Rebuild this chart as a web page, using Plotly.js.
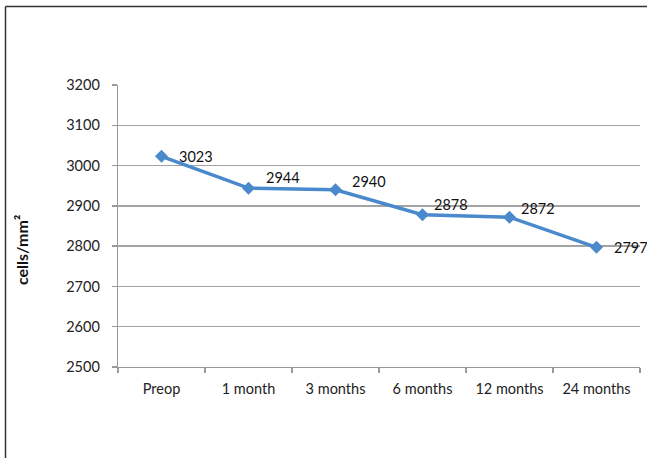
<!DOCTYPE html>
<html>
<head>
<meta charset="utf-8">
<script src="https://cdn.plot.ly/plotly-3.0.1.min.js"></script>
<style>
  html, body { margin: 0; padding: 0; background: #fff; }
  #chart { width: 647px; height: 458px; }
</style>
</head>
<body>
<div id="chart"></div>
<script>
// ---- data ----
const categories = ["Preop", "1 month", "3 months", "6 months", "12 months", "24 months"];
const cellDensity = [3023, 2944, 2940, 2878, 2872, 2797];
const yTickValues = [2500, 2600, 2700, 2800, 2900, 3000, 3100, 3200];
const yAxisTitle = "cells/mm²";

// ---- styling ----
const W = 647, H = 458;
const M = { l: 118, r: 7, t: 85, b: 91 };
const plotW = W - M.l - M.r, plotH = H - M.t - M.b;
const labelXShift = [15, 15, 14, 9, 9, 15];
const labelYShift = [0, 11, 8, 10, 9, 0];
const FONT = "Lato, 'Noto Sans', sans-serif";
const blue = "#4a89cc";

const trace = {
  x: categories,
  y: cellDensity,
  type: "scatter",
  mode: "lines+markers",
  line: { color: blue, width: 3.5 },
  marker: { symbol: "diamond", size: 10, color: blue, line: { width: 0 } },
  hoverinfo: "skip",
  showlegend: false
};

const valueLabels = categories.map((c, i) => ({
  x: c, y: cellDensity[i], xref: "x", yref: "y",
  text: String(cellDensity[i]),
  showarrow: false, xanchor: "left", yanchor: "middle",
  xshift: labelXShift[i], yshift: labelYShift[i],
  font: { family: FONT, size: 14.5, color: "#111" }
}));

const px2x = p => (p - M.l) / plotW;
const px2y = p => (H - M.b - p) / plotH;

const layout = {
  width: W, height: H,
  margin: M,
  paper_bgcolor: "#fff",
  plot_bgcolor: "#fff",
  font: { family: FONT, size: 14, color: "#222" },
  xaxis: {
    type: "category",
    range: [-0.5, categories.length - 0.5],
    showgrid: false,
    showline: true, linecolor: "#9a9a9a", linewidth: 1.3,
    ticks: "outside", ticklen: 5, tickcolor: "#9a9a9a", tickwidth: 1.3,
    tickson: "boundaries",
    ticklabelstandoff: 8,
    tickfont: { family: FONT, size: 14.5, color: "#222" },
    zeroline: false, fixedrange: true
  },
  yaxis: {
    range: [2500, 3200],
    tickvals: yTickValues,
    ticktext: yTickValues.map(String),
    showgrid: true, gridcolor: "#a3a3a3", gridwidth: 1.3,
    showline: true, linecolor: "#9a9a9a", linewidth: 1.3,
    ticks: "outside", ticklen: 5, tickcolor: "#9a9a9a", tickwidth: 1.3,
    ticklabelstandoff: 9,
    tickfont: { family: FONT, size: 14.5, color: "#222" },
    zeroline: false, fixedrange: true
  },
  annotations: valueLabels.concat([{
    text: "<b>" + yAxisTitle + "</b>",
    xref: "paper", yref: "paper",
    x: px2x(21), y: px2y(250),
    xanchor: "center", yanchor: "middle",
    textangle: -90, showarrow: false,
    font: { family: FONT, size: 16, color: "#111" }
  }]),
  shapes: [
    { type: "line", xref: "paper", yref: "paper",
      x0: px2x(5.5), x1: px2x(660), y0: px2y(6.5), y1: px2y(6.5),
      line: { color: "#333", width: 1.5 } },
    { type: "line", xref: "paper", yref: "paper",
      x0: px2x(5.5), x1: px2x(5.5), y0: px2y(6.5), y1: px2y(470),
      line: { color: "#333", width: 1.5 } }
  ]
};

Plotly.newPlot("chart", [trace], layout, { displayModeBar: false, staticPlot: true });
</script>
</body>
</html>
